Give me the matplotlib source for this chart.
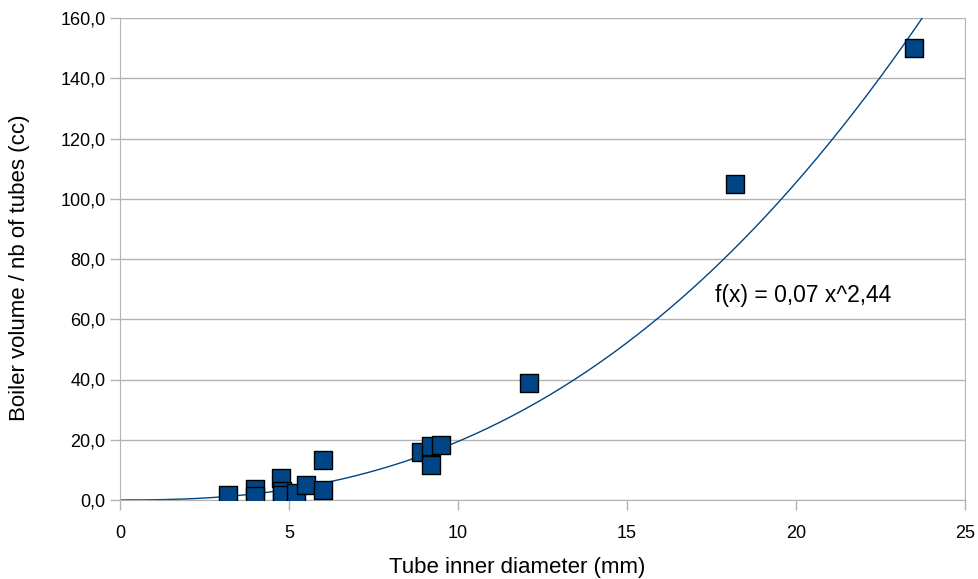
import numpy as np
import matplotlib
matplotlib.use("Agg")
import matplotlib.pyplot as plt
from matplotlib.ticker import FuncFormatter

plt.rcParams['font.family'] = ['Liberation Sans', 'DejaVu Sans']

# tube inner diameter (mm) and boiler volume per tube (cc)
diameter = [3.2, 4.0, 4.0, 4.75, 4.8, 4.8, 5.2, 5.5, 6.0, 6.0,
            8.9, 9.2, 9.5, 9.2, 12.1, 18.2, 23.5]
volume = [1.7, 3.5, 1.3, 7.3, 3.0, 1.5, 2.3, 5.0, 13.3, 3.3,
          16.0, 18.0, 18.3, 11.6, 39.0, 105.0, 150.0]

# power trendline f(x) = a * x^b
fit_a = 0.0705
fit_b = 2.44

xticks = [0, 5, 10, 15, 20, 25]
yticks = [0, 20, 40, 60, 80, 100, 120, 140, 160]

fig = plt.figure(figsize=(9.79, 5.79), dpi=100)
ax = fig.add_axes([120 / 979, 79 / 579, 845 / 979, 482 / 579])

xs = np.linspace(0, 25, 400)
ax.plot(xs, fit_a * xs ** fit_b, color='#004586', lw=1.0, zorder=2)
ax.scatter(diameter, volume, marker='s', s=150, color='#004586',
           edgecolors='black', linewidths=1.0, zorder=3)

ax.set_xlim(0, 25)
ax.set_ylim(0, 160)
ax.set_xticks(xticks)
ax.set_yticks(yticks)
ax.yaxis.set_major_formatter(FuncFormatter(lambda v, p: f"{v:.1f}".replace('.', ',')))

ax.grid(axis='y', color='#b3b3b3', lw=1.0)
ax.set_axisbelow(True)
for s in ['left', 'bottom', 'right']:
    ax.spines[s].set_color('#b3b3b3')
ax.spines['top'].set_visible(False)
ax.tick_params(colors='#b3b3b3', labelcolor='black', labelsize=13,
               length=7, width=1.0)
ax.tick_params(axis='x', pad=11)

ax.set_xlabel('Tube inner diameter (mm)', fontsize=16)
ax.set_ylabel('Boiler volume / nb of tubes (cc)', fontsize=16)
ax.xaxis.set_label_coords((517 - 120) / 845, -(567 - 500) / 482)
ax.yaxis.set_label_coords(-(120 - 20) / 845, (500 - 268) / 482)
ax.xaxis.label.set_va('center')
ax.yaxis.label.set_va('center')

ax.text(17.6, 68, 'f(x) = 0,07 x^2,44', fontsize=16.5, va='center')

fig.savefig('out.png', dpi=100)
